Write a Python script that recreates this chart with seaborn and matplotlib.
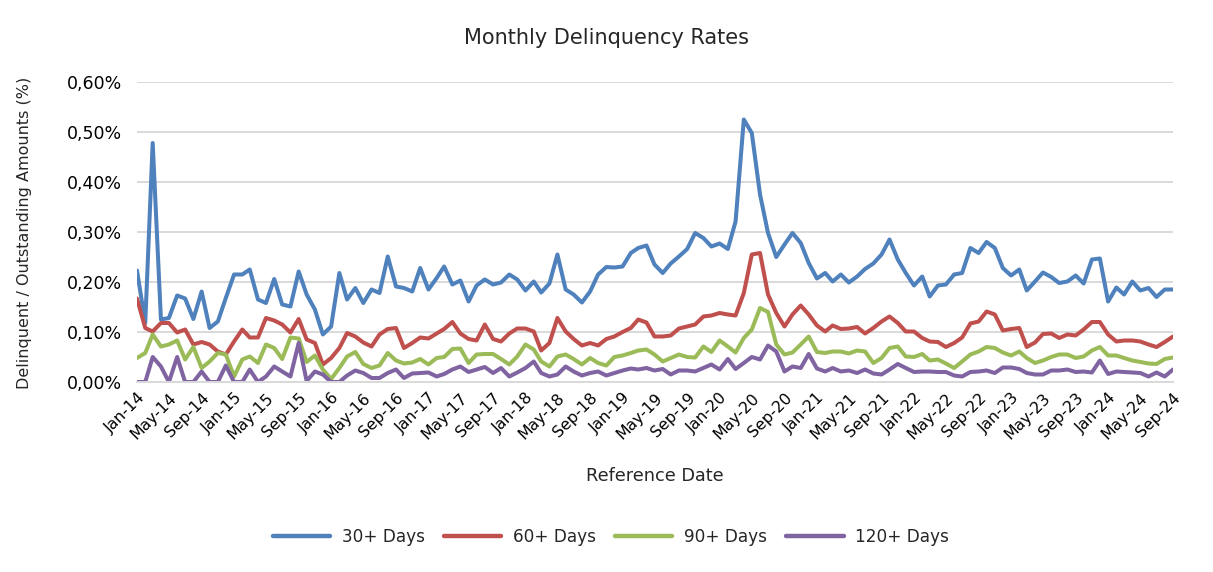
import numpy as np
import pandas as pd
import matplotlib
matplotlib.use("Agg")
import matplotlib.pyplot as plt
import seaborn as sns
from matplotlib.ticker import FuncFormatter

# Monthly reference dates, Jan-14 .. Sep-24
months = pd.date_range("2014-01-01", "2024-09-01", freq="MS")

# Delinquency rates in % of outstanding amounts
days_30 = [
    0.223, 0.118, 0.478, 0.125, 0.128, 0.173, 0.167, 0.126, 0.181, 0.108, 0.121, 0.168,
    0.215, 0.215, 0.225, 0.165, 0.158, 0.206, 0.155, 0.151, 0.221, 0.175, 0.145, 0.095,
    0.111, 0.218, 0.165, 0.188, 0.158, 0.185, 0.178, 0.251, 0.191, 0.188, 0.181, 0.228,
    0.185, 0.208, 0.231, 0.195, 0.203, 0.161, 0.193, 0.205, 0.195, 0.199, 0.215, 0.205,
    0.183, 0.201, 0.179, 0.197, 0.255, 0.185, 0.175, 0.159, 0.181, 0.215, 0.230, 0.229,
    0.231, 0.258, 0.268, 0.273, 0.235, 0.218, 0.237, 0.251, 0.266, 0.298, 0.288, 0.271,
    0.277, 0.266, 0.321, 0.525, 0.498, 0.375, 0.298, 0.250, 0.275, 0.298, 0.278, 0.238,
    0.207, 0.218, 0.201, 0.215, 0.199, 0.211, 0.226, 0.237, 0.255, 0.285, 0.245, 0.218,
    0.193, 0.211, 0.171, 0.193, 0.195, 0.215, 0.218, 0.268, 0.258, 0.280, 0.268, 0.228,
    0.213, 0.225, 0.183, 0.201, 0.219, 0.210, 0.198, 0.201, 0.213, 0.197, 0.245, 0.247,
    0.161, 0.189, 0.175, 0.201, 0.183, 0.188, 0.170, 0.185, 0.185,
]
days_60 = [
    0.167, 0.108, 0.101, 0.118, 0.118, 0.099, 0.105, 0.075, 0.080, 0.075, 0.061, 0.055,
    0.081, 0.105, 0.089, 0.089, 0.128, 0.123, 0.115, 0.099, 0.126, 0.085, 0.078, 0.035,
    0.048, 0.068, 0.098, 0.091, 0.079, 0.071, 0.095, 0.106, 0.108, 0.068, 0.078, 0.089,
    0.087, 0.097, 0.106, 0.120, 0.097, 0.086, 0.083, 0.115, 0.086, 0.081, 0.097, 0.107,
    0.107, 0.101, 0.063, 0.078, 0.128, 0.101, 0.086, 0.073, 0.078, 0.073, 0.086, 0.091,
    0.100, 0.108, 0.125, 0.119, 0.091, 0.091, 0.093, 0.107, 0.111, 0.115, 0.131, 0.133,
    0.138, 0.135, 0.133, 0.178, 0.255, 0.258, 0.175, 0.138, 0.111, 0.135, 0.153, 0.135,
    0.113, 0.101, 0.113, 0.106, 0.107, 0.110, 0.097, 0.108, 0.121, 0.131, 0.118, 0.101,
    0.101, 0.088, 0.081, 0.080, 0.070, 0.078, 0.089, 0.117, 0.121, 0.141, 0.135, 0.103,
    0.106, 0.108, 0.070, 0.079, 0.096, 0.097, 0.088, 0.095, 0.093, 0.105, 0.120, 0.120,
    0.095, 0.081, 0.083, 0.083, 0.081, 0.075, 0.070, 0.080, 0.091,
]
days_90 = [
    0.048, 0.058, 0.095, 0.071, 0.075, 0.083, 0.045, 0.070, 0.028, 0.041, 0.058, 0.055,
    0.011, 0.045, 0.051, 0.038, 0.075, 0.068, 0.046, 0.089, 0.087, 0.040, 0.053, 0.025,
    0.006, 0.028, 0.051, 0.060, 0.036, 0.028, 0.033, 0.058, 0.043, 0.037, 0.039, 0.046,
    0.035, 0.048, 0.050, 0.066, 0.067, 0.038, 0.055, 0.056, 0.056, 0.046, 0.035, 0.051,
    0.075, 0.065, 0.041, 0.031, 0.051, 0.055, 0.046, 0.035, 0.048, 0.038, 0.033, 0.050,
    0.053, 0.058, 0.063, 0.065, 0.055, 0.041, 0.048, 0.055, 0.050, 0.049, 0.071, 0.060,
    0.083, 0.071, 0.059, 0.088, 0.105, 0.148, 0.140, 0.075, 0.055, 0.059, 0.075, 0.091,
    0.060, 0.058, 0.061, 0.061, 0.057, 0.063, 0.061, 0.038, 0.048, 0.068, 0.071, 0.051,
    0.050, 0.056, 0.043, 0.045, 0.037, 0.028, 0.041, 0.055, 0.061, 0.070, 0.068, 0.059,
    0.053, 0.061, 0.048, 0.038, 0.043, 0.050, 0.055, 0.055, 0.048, 0.051, 0.063, 0.070,
    0.053, 0.053, 0.048, 0.043, 0.040, 0.037, 0.036, 0.046, 0.049,
]
days_120 = [
    0.000, 0.000, 0.050, 0.031, 0.000, 0.050, 0.000, 0.000, 0.021, 0.000, 0.000, 0.033,
    0.000, 0.000, 0.025, 0.000, 0.011, 0.031, 0.021, 0.011, 0.078, 0.002, 0.021, 0.015,
    0.000, 0.000, 0.013, 0.023, 0.018, 0.008, 0.008, 0.018, 0.025, 0.008, 0.017, 0.018,
    0.019, 0.011, 0.016, 0.025, 0.031, 0.020, 0.025, 0.030, 0.018, 0.028, 0.011, 0.019,
    0.028, 0.041, 0.018, 0.011, 0.015, 0.031, 0.021, 0.013, 0.018, 0.021, 0.013, 0.018,
    0.023, 0.027, 0.025, 0.028, 0.023, 0.026, 0.015, 0.023, 0.023, 0.021, 0.028, 0.035,
    0.025, 0.046, 0.026, 0.038, 0.050, 0.045, 0.073, 0.061, 0.021, 0.031, 0.028, 0.056,
    0.027, 0.021, 0.028, 0.021, 0.023, 0.018, 0.025, 0.017, 0.015, 0.025, 0.036, 0.028,
    0.020, 0.021, 0.021, 0.020, 0.020, 0.013, 0.011, 0.020, 0.021, 0.023, 0.018, 0.029,
    0.029, 0.026, 0.018, 0.015, 0.015, 0.023, 0.023, 0.025, 0.020, 0.021, 0.019, 0.043,
    0.016, 0.021, 0.020, 0.019, 0.018, 0.011, 0.019, 0.011, 0.025,
]

series_names = ["30+ Days", "60+ Days", "90+ Days", "120+ Days"]
colors = ["#4F81BD", "#C0504D", "#9BBB59", "#8064A2"]

df = pd.DataFrame({
    "date": months,
    "30+ Days": days_30,
    "60+ Days": days_60,
    "90+ Days": days_90,
    "120+ Days": days_120,
}).melt(id_vars="date", var_name="Bucket", value_name="Rate")

sns.set_style("white")
plt.rcParams["font.family"] = ["DejaVu Sans"]

W, H = 1213, 572
fig = plt.figure(figsize=(W / 100, H / 100), dpi=100)
ax = fig.add_axes([137 / W, 1 - 382 / H, (1173 - 137) / W, 300 / H])

sns.lineplot(data=df, x="date", y="Rate", hue="Bucket", hue_order=series_names,
             palette=colors, linewidth=2.9, ax=ax, legend=True)

# y axis
ax.set_ylim(0, 0.6)
ax.set_yticks(np.arange(0, 0.61, 0.1))
ax.yaxis.set_major_formatter(FuncFormatter(lambda v, p: f"{v:.2f}%".replace(".", ",")))
ax.grid(axis="y", color="#D9D9D9", linewidth=1.4)
ax.grid(axis="x", visible=False)
ax.set_axisbelow(True)

# x axis
ax.set_xlim(months[0], months[-1])
tick_dates = months[::4]
ax.set_xticks(tick_dates)
ax.set_xticklabels([d.strftime("%b-%y") for d in tick_dates], rotation=45,
                   ha="right", rotation_mode="anchor")
ax.tick_params(axis="both", length=0, colors="black")
ax.tick_params(axis="x", pad=6, labelsize=11.3)
ax.tick_params(axis="y", pad=11, labelsize=12.5)

for side in ["left", "right", "top"]:
    ax.spines[side].set_visible(False)
ax.spines["bottom"].set_color("#D9D9D9")
ax.spines["bottom"].set_linewidth(1.4)

ax.set_xlabel("")
ax.set_ylabel("")
fig.text(655 / W, 1 - 476 / H, "Reference Date", ha="center", va="center", fontsize=12.7)
fig.text(25 / W, 1 - 233 / H, "Delinquent / Outstanding Amounts (%)", rotation=90,
         ha="center", va="center", fontsize=11.5)
fig.text(607 / W, 1 - 38 / H, "Monthly Delinquency Rates", ha="center", va="center",
         fontsize=15)

handles, labels = ax.get_legend_handles_labels()
ax.get_legend().remove()
for h in handles:
    h.set_linewidth(3.2)
fig.legend(handles, labels, loc="center", bbox_to_anchor=(611 / W, 1 - 537 / H),
           ncol=4, frameon=False, fontsize=12.2, handlelength=3.4, columnspacing=1.1,
           handletextpad=0.7)

fig.savefig("out.png", dpi=100)
